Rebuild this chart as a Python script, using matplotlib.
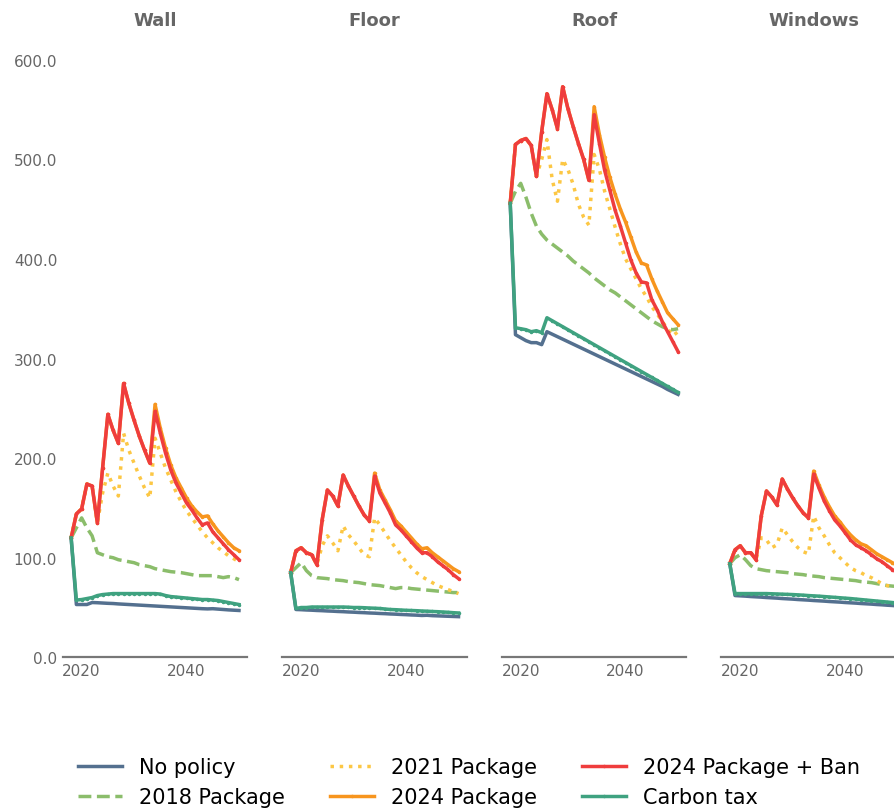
import numpy as np
import matplotlib
matplotlib.use("Agg")
import matplotlib.pyplot as plt

years = np.arange(2018, 2051)
panels = ["Wall", "Floor", "Roof", "Windows"]
labels = ["No policy", "2018 Package", "2021 Package", "2024 Package",
          "2024 Package + Ban", "Carbon tax"]

# Wall
wall_np = [120, 53, 53, 53, 55, 54.8, 54.5, 54.2, 54, 53.6, 53.3, 53, 52.7, 52.4, 52.1, 51.8, 51.5,
           51.2, 50.9, 50.6, 50.3, 50, 49.7, 49.4, 49.1, 48.8, 48.6, 48.8, 48.4, 48, 47.6, 47.3, 47]
wall_2018 = [120, 130, 140, 130, 122, 105, 103, 101, 100, 98, 97, 96, 95, 93, 92, 91, 89,
             88, 87, 86, 85.5, 85, 84, 83, 82, 82, 82, 82, 81, 80, 81, 80, 78]
wall_2021 = [120, 144, 149, 174, 172, 135, 165, 185, 172, 162, 225, 208, 195, 182, 170, 160, 220,
             205, 190, 178, 166, 156, 147, 140, 133, 126, 120, 115, 110, 106, 102, 99, 96]
wall_2024 = [120, 144, 149, 174, 172, 135, 190, 244, 228, 215, 275, 255, 238, 222, 208, 195, 254,
             230, 210, 193, 180, 170, 160, 152, 146, 141, 142, 134, 127, 121, 115, 110, 107]
wall_ban = [120, 144, 149, 174, 172, 135, 190, 244, 228, 215, 275, 255, 238, 222, 208, 195, 247,
            225, 205, 188, 175, 165, 155, 148, 140, 133, 135, 126, 120, 114, 108, 103, 98]
wall_tax = [120, 57.5, 58, 59, 60, 62, 63, 63.5, 64, 64, 64, 64, 64, 64, 64, 64, 64,
            63.5, 62, 61, 60.5, 60, 59.5, 59, 58.5, 58, 58, 57.5, 57, 56, 55, 54, 53]

# Floor
floor_np = [85, 48, 47.8, 47.5, 47.3, 47, 46.8, 46.5, 46.3, 46, 45.8, 45.5, 45.3, 45, 44.8, 44.5, 44.3,
            44, 43.8, 43.5, 43.3, 43, 42.8, 42.5, 42.3, 42, 42.2, 41.8, 41.6, 41.4, 41.2, 41, 40.8]
floor_2018 = [85, 90, 95, 87, 82, 80, 79.5, 79, 78, 77.5, 77, 76, 75.5, 75, 74, 73, 72.5,
              72, 71, 70, 69, 70, 70, 69, 68.5, 68, 67.5, 67, 66.5, 66, 65.5, 65, 65]
floor_2021 = [85, 107, 110, 105, 103, 93, 112, 122, 115, 107, 132, 123, 117, 110, 103, 101, 140,
              133, 125, 117, 110, 103, 96, 90, 85, 81, 78, 75, 72, 70, 68, 66, 64]
floor_2024 = [85, 107, 110, 105, 103, 93, 138, 168, 162, 152, 183, 172, 162, 152, 143, 137, 185,
              168, 158, 148, 137, 132, 126, 120, 114, 109, 110, 105, 101, 97, 93, 89, 86]
floor_ban = [85, 107, 110, 105, 103, 93, 138, 168, 162, 152, 183, 172, 162, 152, 143, 137, 182,
             165, 155, 145, 133, 128, 122, 116, 110, 105, 105, 101, 96, 92, 88, 83, 79]
floor_tax = [85, 49, 50, 50, 50.5, 50.5, 50.5, 50.5, 50.5, 50.5, 50.5, 50.3, 50, 50, 49.8, 49.5, 49.3,
             49, 48.5, 48, 47.8, 47.5, 47.2, 47, 46.8, 46.5, 46.3, 46, 45.8, 45.5, 45.2, 44.8, 44.5]

# Roof
roof_np = [456, 324, 321, 318, 316, 316, 314, 327, 324.5, 322, 319.5, 317, 314.5, 312, 309.5, 307, 304.5,
           302, 299.5, 297, 294.5, 292, 289.5, 287, 284.5, 282, 279.5, 277, 274.5, 272, 269, 266.5, 264]
roof_2018 = [456, 468, 476, 462, 446, 433, 425, 419, 415, 411, 407, 403, 398, 394, 390, 386, 381,
             377, 373, 369, 366, 362, 358, 354, 350, 346, 342, 338, 335, 332, 330, 329, 330]
roof_2021 = [456, 515, 519, 521, 514, 483, 500, 520, 480, 458, 500, 490, 475, 455, 442, 434, 505,
             490, 468, 450, 432, 415, 400, 390, 380, 370, 362, 352, 345, 337, 330, 323, 327]
roof_2024 = [456, 515, 519, 521, 514, 483, 528, 566, 550, 531, 573, 551, 533, 516, 500, 479, 553,
             525, 502, 482, 465, 450, 437, 422, 407, 396, 394, 380, 368, 357, 346, 340, 334]
roof_ban = [456, 515, 519, 521, 514, 483, 528, 566, 550, 531, 573, 551, 533, 516, 500, 479, 545,
            516, 489, 469, 449, 433, 416, 399, 386, 377, 376, 359, 349, 337, 327, 317, 307]
roof_tax = [456, 331, 330, 329, 327, 328, 326, 341, 338, 335, 332, 329, 326, 323, 320, 317, 314,
            311, 308, 305, 302, 299, 296, 293, 290, 287, 284, 281, 278, 275, 272, 269, 266]

# Windows
win_np = [94, 62, 61.7, 61.4, 61, 60.7, 60.4, 60, 59.7, 59.4, 59, 58.7, 58.4, 58, 57.7, 57.4, 57,
          56.7, 56.4, 56, 55.7, 55.4, 55, 54.7, 54.4, 54, 53.7, 53.4, 53, 52.7, 52.3, 52, 51.5]
win_2018 = [94, 100, 103, 98, 92, 89, 88, 87, 86.5, 86, 85.5, 85, 84, 83.5, 83, 82, 81.5,
            81, 80, 79.5, 79, 78.5, 78, 77.5, 77, 76, 75.5, 75, 74, 73, 72, 71.5, 71]
win_2021 = [94, 108, 112, 105, 105, 98, 120, 118, 110, 113, 130, 123, 116, 110, 106, 104, 142,
            130, 122, 113, 105, 100, 95, 90, 87, 85, 82, 80, 77, 74, 72, 71, 70]
win_2024 = [94, 108, 112, 105, 105, 98, 142, 167, 161, 153, 179, 169, 160, 152, 145, 140, 187,
            173, 161, 151, 142, 136, 129, 123, 118, 114, 112, 108, 104, 101, 98, 95, 92]
win_ban = [94, 108, 112, 105, 105, 98, 142, 167, 161, 153, 179, 169, 160, 152, 145, 140, 184,
           170, 157, 147, 138, 132, 125, 118, 113, 110, 107, 103, 99, 96, 92, 88, 85]
win_tax = [94, 64, 64, 64, 64, 64, 64, 64, 63.8, 63.6, 63.4, 63.2, 63, 62.7, 62.4, 62, 61.7,
           61.4, 61, 60.6, 60.2, 59.8, 59.4, 59, 58.5, 58, 57.5, 57, 56.5, 56, 55.5, 55, 54.5]

series = {
    "Wall": [wall_np, wall_2018, wall_2021, wall_2024, wall_ban, wall_tax],
    "Floor": [floor_np, floor_2018, floor_2021, floor_2024, floor_ban, floor_tax],
    "Roof": [roof_np, roof_2018, roof_2021, roof_2024, roof_ban, roof_tax],
    "Windows": [win_np, win_2018, win_2021, win_2024, win_ban, win_tax],
}

colors = ["#54708f", "#8bbd6b", "#fcc744", "#f7951e", "#ef3d3d", "#3fa280"]
styles = ["-", "--", ":", "-", "-", "-"]
markers = [None, None, None, ".", ".", "."]

grey = "#666666"
fig = plt.figure(figsize=(8.95, 8.12), dpi=100)

handles = []
for i, name in enumerate(panels):
    ax = fig.add_axes([0.0701 + i * 0.2453, 0.1893, 0.2063, 0.7664])
    for vals, c, ls, mk, lab in zip(series[name], colors, styles, markers, labels):
        ln, = ax.plot(years, vals, color=c, linestyle=ls, linewidth=2.5,
                      marker=mk, markersize=3, label=lab)
        if i == 0:
            handles.append(ln)
    ax.set_xlim(2016.4, 2051.6)
    ax.set_ylim(0, 625)
    ax.set_xticks([2020, 2040])
    ax.set_yticks(np.arange(0, 601, 100))
    ax.yaxis.set_major_formatter(matplotlib.ticker.FormatStrFormatter("%.1f"))
    ax.tick_params(length=0, labelsize=11, labelcolor=grey, pad=4)
    if i > 0:
        ax.tick_params(labelleft=False)
    for s in ["top", "right", "left"]:
        ax.spines[s].set_visible(False)
    ax.spines["bottom"].set_color("#777777")
    ax.spines["bottom"].set_linewidth(1.6)
    ax.set_title(name, fontsize=13, fontweight="bold", color=grey, pad=7)

fig.legend(handles=handles, loc="center", bbox_to_anchor=(0.524, 0.0357), ncol=3,
           fontsize=15, frameon=False, handlelength=2.1, columnspacing=2.2)

fig.savefig("out.png", dpi=100)
